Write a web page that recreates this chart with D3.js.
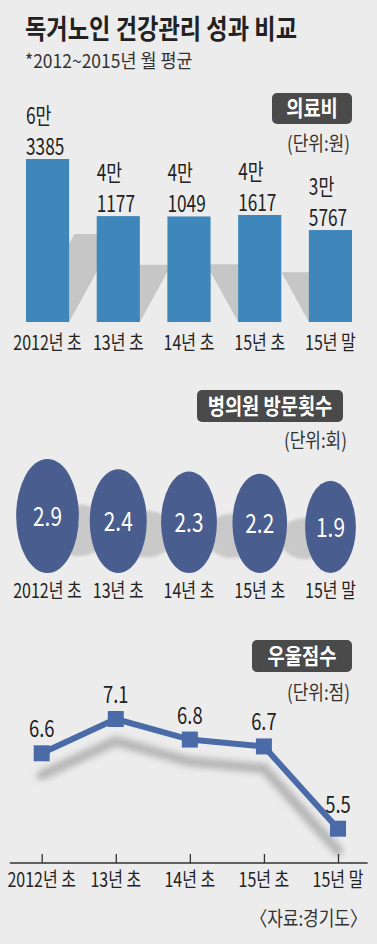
<!DOCTYPE html>
<html>
<head>
<meta charset="utf-8">
<script src="https://cdn.jsdelivr.net/npm/d3@7"></script>
<style>
  html, body { margin: 0; padding: 0; background: #ececec; }
  svg { display: block; font-family: "Noto Sans CJK KR", "Noto Sans", sans-serif; }
</style>
</head>
<body>
<svg id="chart" width="377" height="944"></svg>
<script>
// 데이터
const categories = ['2012년 초', '13년 초', '14년 초', '15년 초', '15년 말'];
const costValues = [63385, 41177, 41049, 41617, 35767];   // 의료비 (원)
const visitValues = [2.9, 2.4, 2.3, 2.2, 1.9];            // 병의원 방문횟수 (회)
const depressionValues = [6.6, 7.1, 6.8, 6.7, 5.5];       // 우울점수 (점)

const W = 377, H = 944;
const svg = d3.select('#chart');
const textColor = '#222';
const center = (categories.length - 1) / 2;

svg.append('rect').attr('width', W).attr('height', H).attr('fill', '#ececec');

const defs = svg.append('defs');
defs.append('filter').attr('id', 'blurLine').attr('x', '-20%').attr('y', '-40%')
  .attr('width', '140%').attr('height', '180%')
  .append('feGaussianBlur').attr('stdDeviation', 3);
defs.append('filter').attr('id', 'blurSoft').attr('x', '-30%').attr('y', '-30%')
  .attr('width', '160%').attr('height', '160%')
  .append('feGaussianBlur').attr('stdDeviation', 1.5);

// condensed text helper
function label(g, x, y, str, o = {}) {
  return g.append('text')
    .attr('transform', `translate(${x},${y}) scale(${o.sx || 0.8},1)`)
    .attr('text-anchor', o.anchor || 'middle')
    .style('font-size', (o.size || 20) + 'px')
    .style('font-weight', o.weight || 400)
    .attr('fill', o.fill || textColor)
    .text(str);
}

function badge(g, x0, x1, y0, y1, str) {
  g.append('rect').attr('x', x0).attr('y', y0).attr('width', x1 - x0).attr('height', y1 - y0)
    .attr('rx', 5).attr('fill', '#4a4a4a');
  label(g, (x0 + x1) / 2, y1 - 8, str, { size: 22, weight: 700, fill: '#fff', sx: 0.85 });
}

// 제목
label(svg, 25, 39, '독거노인 건강관리 성과 비교', { size: 27, weight: 700, anchor: 'start', sx: 0.86 });
label(svg, 25, 68, '*2012~2015년 월 평균', { size: 19, anchor: 'start', sx: 0.92, fill: '#333' });

// ---------- 의료비 막대 ----------
const g1 = svg.append('g');
const x1 = d3.scaleBand().domain(categories).range([26, 352]).paddingInner(0.39).paddingOuter(0);
const y1 = d3.scaleLinear().domain([0, 70000]).range([322, 142]);

badge(g1, 272, 352, 93, 124, '의료비');
label(g1, 350, 151, '(단위:원)', { size: 20, anchor: 'end', sx: 0.85, fill: '#333' });

// shadows: each bar casts a sheared shadow away from the middle
g1.selectAll('.bar-shadow')
  .data(costValues)
  .enter()
  .append('path')
  .attr('class', 'bar-shadow')
  .attr('fill', '#c6c6c6')
  .attr('d', (d, i) => {
    const base = y1(0);
    const hs = (base - y1(d)) * 0.54;
    const dir = Math.sign(center - i);
    const shift = dir * hs * 0.55;
    const a = x1(categories[i]), b = a + x1.bandwidth();
    return `M${a},${base}L${b},${base}L${b + shift},${base - hs}L${a + shift},${base - hs}Z`;
  });

g1.selectAll('.bar')
  .data(costValues)
  .enter()
  .append('rect')
  .attr('class', 'bar')
  .attr('x', (d, i) => x1(categories[i]))
  .attr('y', d => y1(d))
  .attr('width', x1.bandwidth())
  .attr('height', d => y1(0) - y1(d))
  .attr('fill', '#3f87ba');

costValues.forEach((v, i) => {
  const man = Math.floor(v / 10000) + '만';
  const rest = String(v % 10000).padStart(4, '0');
  label(g1, x1(categories[i]), y1(v) - 35, man, { size: 23, anchor: 'start', sx: 0.75 });
  label(g1, x1(categories[i]), y1(v) - 4, rest, { size: 23, anchor: 'start', sx: 0.75 });
});

categories.forEach(c => {
  label(g1, x1(c) + x1.bandwidth() / 2, 350, c, { size: 20, sx: 0.8 });
});

// ---------- 병의원 방문횟수 타원 ----------
const g2 = svg.append('g');
const x2 = d3.scalePoint().domain(categories).range([47.5, 330.5]);
const r2 = d3.scaleSqrt().domain([0, 2.9]).range([0, 57]);
const bottom2 = 573;

badge(g2, 197, 343, 390, 422, '병의원 방문횟수');
label(g2, 347, 448, '(단위:회)', { size: 20, anchor: 'end', sx: 0.85, fill: '#333' });

g2.selectAll('.ell-shadow')
  .data(visitValues)
  .enter()
  .append('ellipse')
  .attr('class', 'ell-shadow')
  .attr('fill', '#c9c9c9')
  .attr('filter', 'url(#blurSoft)')
  .attr('cx', (d, i) => x2(categories[i]) + Math.sign(center - i) * r2(d) * 0.55)
  .attr('cy', d => bottom2 - r2(d) * 0.75)
  .attr('rx', d => r2(d) * 0.55)
  .attr('ry', d => r2(d) * 0.45);

g2.selectAll('.ell')
  .data(visitValues)
  .enter()
  .append('ellipse')
  .attr('class', 'ell')
  .attr('cx', (d, i) => x2(categories[i]))
  .attr('cy', d => bottom2 - r2(d))
  .attr('rx', d => r2(d) * 0.55)
  .attr('ry', d => r2(d))
  .attr('fill', '#4a5d8f');

visitValues.forEach((v, i) => {
  label(g2, x2(categories[i]), bottom2 - r2(v) + 10, v.toFixed(1), { size: 26, fill: '#fff', sx: 0.8 });
});

categories.forEach(c => {
  label(g2, x2(c), 598, c, { size: 20, sx: 0.8 });
});

// ---------- 우울점수 꺾은선 ----------
const g3 = svg.append('g');
const x3 = d3.scalePoint().domain(categories).range([41.7, 338]);
const y3 = d3.scaleLinear().domain([5, 7.1]).range([863, 719]);

badge(g3, 252, 352, 640, 672, '우울점수');
label(g3, 350, 700, '(단위:점)', { size: 20, anchor: 'end', sx: 0.85, fill: '#333' });

const line = d3.line()
  .x((d, i) => x3(categories[i]))
  .y(d => y3(d));

g3.append('path')
  .datum(depressionValues)
  .attr('d', line)
  .attr('transform', 'translate(0,22)')
  .attr('fill', 'none')
  .attr('stroke', '#b5b5b5')
  .attr('stroke-width', 10)
  .attr('stroke-linejoin', 'round')
  .attr('stroke-linecap', 'round')
  .attr('filter', 'url(#blurLine)');

const axis = d3.axisBottom(x3).tickSize(-9).tickSizeOuter(0).tickFormat('');
const axisG = g3.append('g').attr('transform', `translate(0,${y3(5)})`).call(axis);
axisG.select('.domain').remove();
axisG.selectAll('.tick line').attr('stroke', '#333').attr('stroke-width', 1.3);
axisG.append('line')
  .attr('x1', x3.range()[0] - x3.step() * 0.43)
  .attr('x2', x3.range()[1] + x3.step() * 0.4)
  .attr('stroke', '#333').attr('stroke-width', 1.5);

g3.append('path')
  .datum(depressionValues)
  .attr('d', line)
  .attr('fill', 'none')
  .attr('stroke', '#4b6ba8')
  .attr('stroke-width', 6);

g3.selectAll('.pt')
  .data(depressionValues)
  .enter()
  .append('rect')
  .attr('class', 'pt')
  .attr('x', (d, i) => x3(categories[i]) - 8)
  .attr('y', d => y3(d) - 8)
  .attr('width', 16)
  .attr('height', 16)
  .attr('fill', '#4b6ba8');

depressionValues.forEach((v, i) => {
  label(g3, x3(categories[i]), y3(v) - 16, v.toFixed(1), { size: 23, sx: 0.8 });
});

categories.forEach(c => {
  label(g3, x3(c), 887, c, { size: 20, sx: 0.8 });
});

label(svg, 367, 926, '〈자료:경기도〉', { size: 20, anchor: 'end', sx: 0.85, fill: '#333' });
</script>
</body>
</html>
